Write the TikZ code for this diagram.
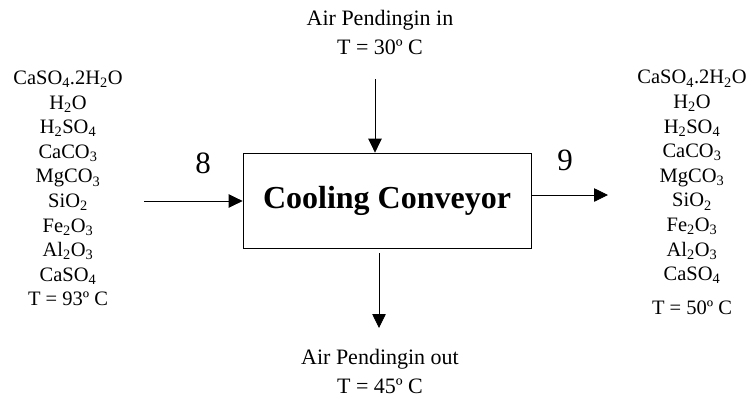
\documentclass[tikz,border=0pt]{standalone}
\usepackage{fontspec}
\setmainfont{Liberation Serif}
\usetikzlibrary{arrows.meta}
\newcommand{\sbs}[1]{\textsubscript{#1}}
\begin{document}
\begin{tikzpicture}[x=1pt,y=-1pt,
  flow/.style={line width=0.8pt,-{Triangle[length=14pt,width=13.5pt]}},
  unitbox/.style={draw,line width=0.8pt,minimum width=288pt,minimum height=95pt,inner sep=0pt,font=\fontsize{32}{36}\selectfont\bfseries},
  lbl/.style={align=center,inner sep=0pt,font=\fontsize{22}{28.5}\selectfont},
  lst/.style={align=center,inner sep=0pt,font=\fontsize{20.5}{24.6}\selectfont},
  num/.style={inner sep=0pt,font=\fontsize{31}{36}\selectfont}]
\useasboundingbox (0,0) rectangle (751,400);
\node[unitbox] (box) at (387,200.5) {Cooling Conveyor};
\node[lbl] (topl) at (380,32.5) {Air Pendingin in\\T = 30º C};
\node[lbl] (botl) at (380,371.5) {Air Pendingin out\\T = 45º C};
\node[num] (n8) at (203,163) {8};
\node[num] (n9) at (565,160) {9};
\node[lst] (left) at (68,188.5) {CaSO\sbs{4}.2H\sbs{2}O\\H\sbs{2}O\\H\sbs{2}SO\sbs{4}\\CaCO\sbs{3}\\MgCO\sbs{3}\\SiO\sbs{2}\\Fe\sbs{2}O\sbs{3}\\Al\sbs{2}O\sbs{3}\\CaSO\sbs{4}\\T = 93º C};
\node[lst] (right) at (692,192.5) {CaSO\sbs{4}.2H\sbs{2}O\\H\sbs{2}O\\H\sbs{2}SO\sbs{4}\\CaCO\sbs{3}\\MgCO\sbs{3}\\SiO\sbs{2}\\Fe\sbs{2}O\sbs{3}\\Al\sbs{2}O\sbs{3}\\CaSO\sbs{4}\\[9pt]T = 50º C};
\coordinate (tin) at (375,79);
\coordinate (lin) at (144,201);
\coordinate (rout) at (608,195);
\coordinate (bs) at (379,253);
\coordinate (be) at (379,328);
\draw[flow] (tin) -- (tin |- box.north);
\draw[flow] (lin) -- (lin -| box.west);
\draw[flow] (rout -| box.east) -- (rout);
\draw[flow] (bs) -- (be);
\end{tikzpicture}
\end{document}
